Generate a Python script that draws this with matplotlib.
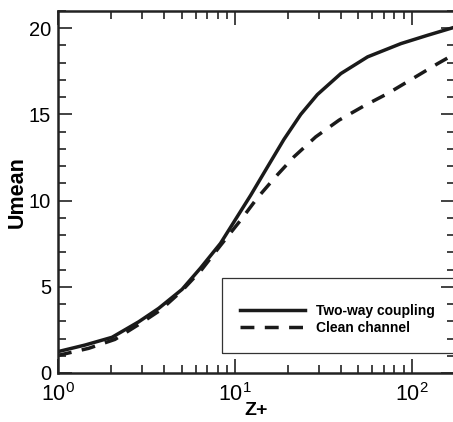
import numpy as np
import matplotlib.pyplot as plt
from matplotlib.patches import Rectangle
from matplotlib.ticker import LogLocator, MultipleLocator, FixedLocator

plt.rcParams['font.family'] = ['Liberation Sans', 'DejaVu Sans']

# Two-way coupling (solid)
z_two = [1.0, 1.42, 2.02, 2.86, 3.71, 5.03, 6.39, 8.3, 9.87, 12.28, 15.3, 18.96,
         23.6, 29.3, 39.8, 56.4, 87.1, 123, 175]
u_two = [1.24, 1.62, 2.07, 2.97, 3.75, 4.85, 6.08, 7.52, 8.75, 10.3, 11.95, 13.55,
         15.0, 16.15, 17.37, 18.34, 19.11, 19.59, 20.06]

# Clean channel (dashed)
z_clean = [1.0, 1.49, 2.1, 2.9, 3.8, 5.0, 6.5, 8.3, 10.8, 13.4, 17.0, 21.6,
           28.7, 38.9, 53.9, 73.2, 101.5, 140.6, 175]
u_clean = [1.02, 1.43, 1.95, 2.85, 3.65, 4.75, 6.0, 7.4, 8.87, 10.15, 11.38, 12.54,
           13.7, 14.67, 15.5, 16.21, 17.08, 17.95, 18.5]

fig = plt.figure(figsize=(4.53, 4.22), dpi=100)
ax = fig.add_axes([58 / 453, 1 - 373 / 422, (455 - 58) / 453, (373 - 11) / 422])

ax.plot(z_two, u_two, color='#1a1a1a', lw=2.5, label='Two-way coupling')
ax.plot(z_clean, u_clean, color='#1a1a1a', lw=2.5, dashes=(4.0, 3.0),
        label='Clean channel')

ax.set_xscale('log')
ax.set_xlim(1, 176)
ax.set_ylim(0, 21)

ax.xaxis.set_major_locator(FixedLocator([1, 10, 100]))
ax.xaxis.set_minor_locator(LogLocator(base=10, subs=np.arange(2, 10)))
ax.set_xticklabels(['$\\mathregular{10^0}$', '$\\mathregular{10^1}$', '$\\mathregular{10^2}$'])
ax.yaxis.set_major_locator(MultipleLocator(5))
ax.yaxis.set_minor_locator(MultipleLocator(1))

ax.tick_params(which='both', direction='in', top=True, right=True,
               labelsize=14.5, width=1.2, color='#222222')
ax.tick_params(axis='x', labelsize=15.5, pad=7.5)
ax.tick_params(axis='y', pad=5)
ax.tick_params(which='major', length=10)
ax.tick_params(which='minor', length=6)

for s in ax.spines.values():
    s.set_linewidth(1.8)
    s.set_color('#222222')

ax.set_xlabel('Z+', fontsize=14, fontweight='bold', labelpad=-3)
ax.set_ylabel('Umean', fontsize=15.5, fontweight='bold')
ax.yaxis.set_label_coords(-0.075, 0.5)

# legend frame
box = Rectangle(((222 - 58) / 397, (373 - 353) / 362), 1.0, (353 - 278) / 362,
                transform=ax.transAxes, fill=False, lw=0.9, edgecolor='#333333', zorder=3)
ax.add_patch(box)
leg = ax.legend(loc='lower left', bbox_to_anchor=((240 - 58) / 397, (373 - 335) / 362),
                frameon=False, prop={'weight': 'bold', 'size': 10},
                handlelength=4.7, handletextpad=0.8, labelspacing=0.25,
                borderaxespad=0, borderpad=0)

fig.savefig('out.png', dpi=100)
